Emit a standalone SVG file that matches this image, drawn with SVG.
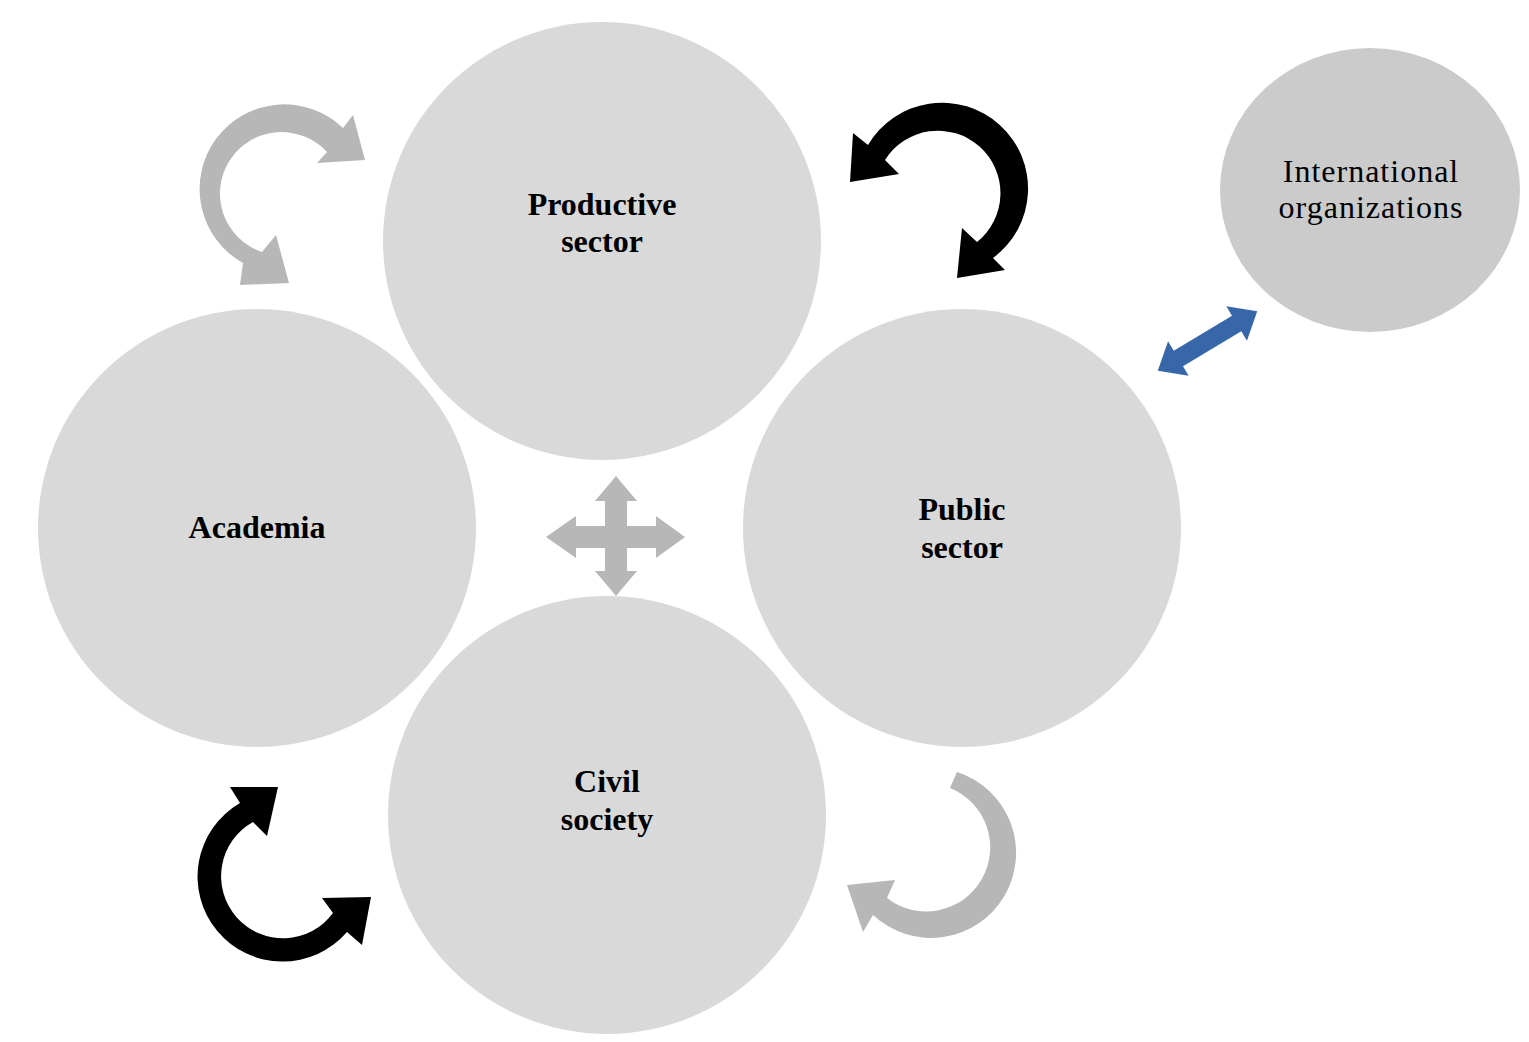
<svg xmlns="http://www.w3.org/2000/svg" width="1529" height="1042" viewBox="0 0 1529 1042">
<style>
.node{fill:#d9d9d9}
.intl{fill:#cbcbcb}
.lbl{font-family:"Liberation Serif","Times New Roman",serif;font-weight:bold;font-size:32px;fill:#000;text-anchor:middle}
.lbl2{font-family:"Liberation Serif","Times New Roman",serif;font-size:32px;letter-spacing:1px;fill:#000;text-anchor:middle}
.gray{fill:#b7b7b7}
.black{fill:#000}
.blue{fill:#3767a8}
</style>
<rect width="1529" height="1042" fill="#ffffff"/>
<g id="productive-sector">
<circle class="node" cx="602" cy="241" r="219"/>
<text class="lbl" x="602" y="215">Productive</text>
<text class="lbl" x="602" y="252">sector</text>
</g>
<g id="academia">
<circle class="node" cx="257" cy="528" r="219"/>
<text class="lbl" x="257" y="538">Academia</text>
</g>
<g id="public-sector">
<circle class="node" cx="962" cy="528" r="219"/>
<text class="lbl" x="962" y="520">Public</text>
<text class="lbl" x="962" y="558">sector</text>
</g>
<g id="civil-society">
<circle class="node" cx="607" cy="815" r="219"/>
<text class="lbl" x="607" y="792">Civil</text>
<text class="lbl" x="607" y="830">society</text>
</g>
<g id="international-organizations">
<ellipse class="intl" cx="1370" cy="190" rx="150" ry="142"/>
<text class="lbl2" x="1371" y="182">International</text>
<text class="lbl2" x="1371" y="218">organizations</text>
</g>
<g id="connectors">
<path class="gray" d="M343,128 L353,115 L365,160 L317,163 L327,152 A61.6,61.6 0 1 0 262,252 L276,235 L289,283 L240,285 L243,263 A84.7,84.7 0 1 1 343,128 Z"/>
<path class="black" d="M868,145 L853,133 L850,182 L899,174 L885,160 A62.5,62.5 0 1 1 977,242 L962,228 L957,278 L1005,270 L993,258 A86,86 0 1 0 868,145 Z"/>
<path class="black" d="M240,803 L230,787 L278,787 L267,836 L253,822 A62,62 0 1 0 333,913 L322,898 L371,897 L362,945 L347,932 A85,85 0 1 1 240,803 Z"/>
<path class="gray" d="M957,772 A85,85 0 1 1 873,915 L863,932 L847,885 L895,880 L887,898 A64,64 0 1 0 950,788 Z"/>
<path class="gray" d="M616,476 L637,501 L627,501 L627,526 L656,526 L656,516 L685,537 L656,558 L656,548 L627,548 L627,571 L637,571 L616,596 L595,571 L605,571 L605,548 L576,548 L576,558 L546,537 L576,516 L576,526 L605,526 L605,501 L595,501 Z"/>
<path class="blue" transform="translate(1207.5,341) rotate(-31)" d="M58,0 L34,-20 L34,-9 L-34,-9 L-34,-20 L-58,0 L-34,20 L-34,9 L34,9 L34,20 Z"/>
</g>
</svg>
